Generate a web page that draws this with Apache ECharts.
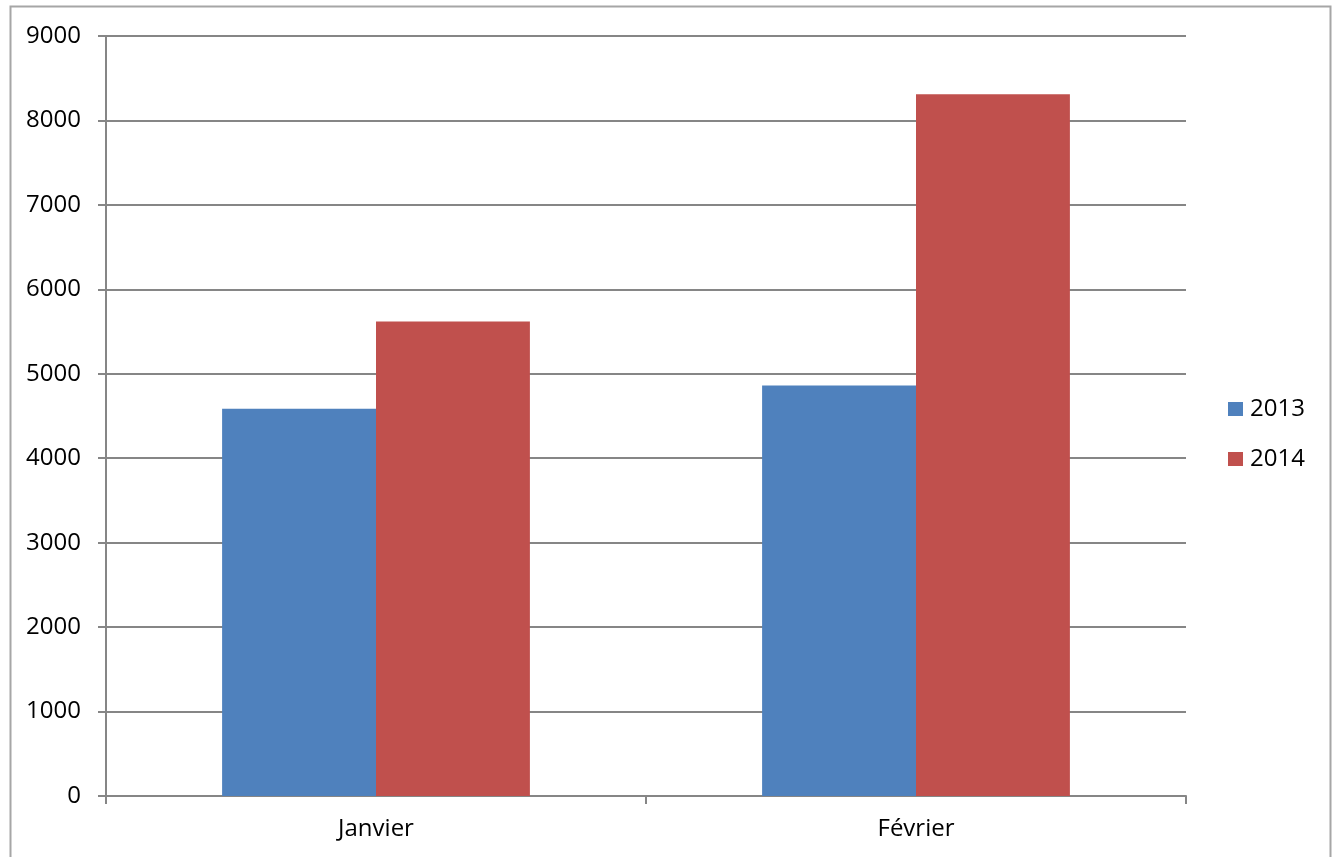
<!DOCTYPE html>
<html>
<head>
<meta charset="utf-8">
<script src="https://cdn.jsdelivr.net/npm/echarts@6/dist/echarts.min.js"></script>
<style>
  html, body { margin: 0; padding: 0; background: #fff; }
  #chart { width: 1339px; height: 857px; }
</style>
</head>
<body>
<div id="chart"></div>
<script>
// Monthly figures, two years side by side
const months = ['Janvier', 'Février'];
const years = ['2013', '2014'];
const values2013 = [4585, 4860];
const values2014 = [5620, 8310];
const yTicks = [0, 1000, 2000, 3000, 4000, 5000, 6000, 7000, 8000, 9000];

const FONT = '"Open Sans", "Liberation Sans", sans-serif';
const FONT_SIZE = 24;
const AXIS_GRAY = '#868686';

const chart = echarts.init(document.getElementById('chart'), null, { renderer: 'canvas' });

chart.setOption({
  backgroundColor: '#ffffff',
  animation: false,
  textStyle: { fontFamily: FONT },
  graphic: [{
    type: 'rect',
    shape: { x: 10.5, y: 6.5, width: 1320, height: 900 },
    style: { fill: 'none', stroke: '#a6a6a6', lineWidth: 2 },
    silent: true
  }],
  grid: { left: 106, top: 36, width: 1080, height: 760, containLabel: false },
  legend: {
    orient: 'vertical',
    left: 1223,
    top: 392,
    icon: 'rect',
    itemWidth: 15,
    itemHeight: 14,
    itemGap: 26,
    textStyle: { fontFamily: FONT, fontSize: FONT_SIZE, color: '#000', lineHeight: 24, padding: [0, 0, 0, 2] },
    data: years
  },
  xAxis: {
    type: 'category',
    data: months,
    axisLine: { lineStyle: { color: AXIS_GRAY, width: 2 } },
    axisTick: { show: true, length: 8, inside: false, lineStyle: { color: AXIS_GRAY, width: 2 } },
    axisLabel: { fontFamily: FONT, fontSize: FONT_SIZE, color: '#000', margin: 21 },
    splitLine: { show: false }
  },
  yAxis: {
    type: 'value',
    min: yTicks[0],
    max: yTicks[yTicks.length - 1],
    interval: yTicks[1] - yTicks[0],
    axisLine: { show: true, lineStyle: { color: AXIS_GRAY, width: 2 } },
    axisTick: { show: true, length: 8, lineStyle: { color: AXIS_GRAY, width: 2 } },
    axisLabel: {
      fontFamily: FONT, fontSize: FONT_SIZE, color: '#000', margin: 25,
      formatter: (v) => String(v)
    },
    splitLine: { show: true, lineStyle: { color: AXIS_GRAY, width: 2 } }
  },
  series: [
    {
      name: years[0],
      type: 'bar',
      data: values2013,
      barGap: '0%',
      barCategoryGap: '43%',
      itemStyle: { color: '#4f81bd' }
    },
    {
      name: years[1],
      type: 'bar',
      data: values2014,
      barGap: '0%',
      barCategoryGap: '43%',
      itemStyle: { color: '#c0504d' }
    }
  ]
});
</script>
</body>
</html>
